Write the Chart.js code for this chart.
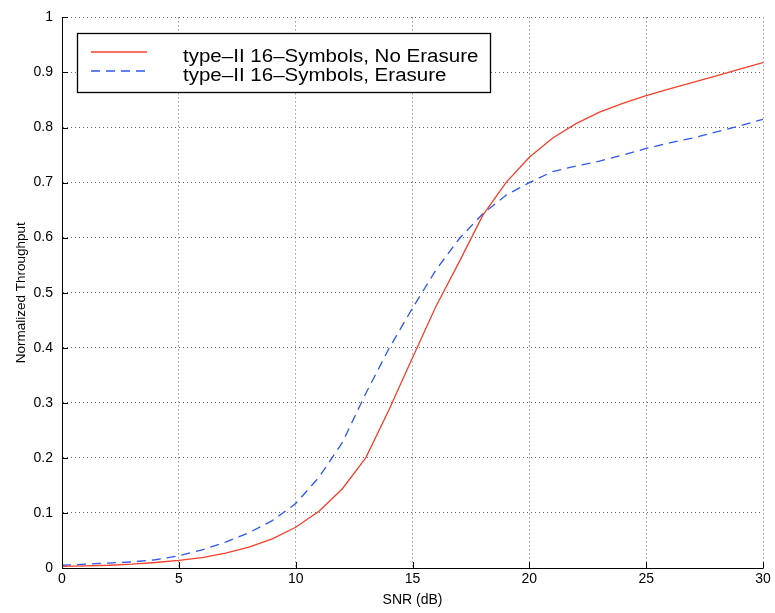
<!DOCTYPE html>
<html><head><meta charset="utf-8">
<script src="https://cdn.jsdelivr.net/npm/chart.js@4/dist/chart.umd.min.js"></script>
<style>html,body{margin:0;padding:0;background:#fff}#wrap{width:775px;height:613px;position:relative}</style>
</head><body><div id="wrap"><canvas id="c" width="775" height="613"></canvas></div>
<script>
const snr = [0,1,2,3,4,5,6,7,8,9,10,11,12,13,14,15,16,17,18,19,20,21,22,23,24,25,26,27,28,29,30];
const noErasure = [0.003,0.004,0.005,0.007,0.010,0.014,0.019,0.027,0.038,0.053,0.074,0.103,0.144,0.200,0.288,0.382,0.475,0.556,0.640,0.700,0.746,0.781,0.807,0.828,0.844,0.858,0.870,0.882,0.894,0.906,0.918];
const erasure = [0.005,0.007,0.009,0.011,0.015,0.022,0.033,0.047,0.064,0.086,0.117,0.165,0.228,0.317,0.399,0.472,0.541,0.598,0.643,0.677,0.700,0.720,0.730,0.739,0.750,0.762,0.772,0.781,0.792,0.803,0.815];
const seriesLabels = ['type\u2013II 16\u2013Symbols, No Erasure','type\u2013II 16\u2013Symbols, Erasure'];
const xTicks = [0,5,10,15,20,25,30];
const yTicks = [0,0.1,0.2,0.3,0.4,0.5,0.6,0.7,0.8,0.9,1];
const FONT = '"Liberation Sans", Arial, Helvetica, sans-serif';

const toPts = (ys) => snr.map((x,i)=>({x:x,y:ys[i]}));

const inTicks = {
  id:'inTicks',
  afterDraw(chart){
    const {ctx, chartArea:a, scales:{x,y}} = chart;
    ctx.save();
    ctx.setLineDash([]);
    ctx.strokeStyle='#000'; ctx.lineWidth=1;
    ctx.beginPath();
    ctx.moveTo(a.left+0.5,a.top); ctx.lineTo(a.left+0.5,a.bottom+0.5); ctx.lineTo(a.right,a.bottom+0.5);
    xTicks.forEach(v=>{const p=Math.round(x.getPixelForValue(v))+0.5; ctx.moveTo(p,a.bottom); ctx.lineTo(p,a.bottom-6);});
    yTicks.forEach(v=>{const p=Math.round(y.getPixelForValue(v))+0.5; ctx.moveTo(a.left,p); ctx.lineTo(a.left+6,p);});
    ctx.stroke();
    // legend box
    const bx=77, by=33, bw=413, bh=59;
    ctx.fillStyle='#fff'; ctx.fillRect(bx,by,bw,bh);
    ctx.lineWidth=1.3; ctx.strokeStyle='#000'; ctx.strokeRect(bx+0.5,by+0.5,bw,bh);
    chart.data.datasets.forEach((ds,i)=>{
      const yy = by + 19 + i*19;
      ctx.beginPath();
      ctx.strokeStyle=ds.borderColor; ctx.lineWidth=1.3;
      ctx.setLineDash(ds.borderDash||[]);
      ctx.moveTo(91,yy); ctx.lineTo(147,yy); ctx.stroke();
      ctx.setLineDash([]);
      ctx.save();
      ctx.translate(183, yy+9.5);
      ctx.scale(1.14,1);
      ctx.fillStyle='#000'; ctx.font='18px '+FONT; ctx.textBaseline='alphabetic'; ctx.textAlign='left';
      ctx.fillText(ds.label,0,0);
      ctx.restore();
    });
    ctx.restore();
  }
};

new Chart(document.getElementById('c'),{
  type:'line',
  data:{datasets:[
    {label:seriesLabels[0],data:toPts(noErasure),borderColor:'#f4402a',borderWidth:1.3,pointRadius:0,tension:0,fill:false},
    {label:seriesLabels[1],data:toPts(erasure),borderColor:'#2d57f0',borderWidth:1.3,borderDash:[9,6],pointRadius:0,tension:0,fill:false}
  ]},
  options:{
    responsive:false,animation:false,devicePixelRatio:1,
    layout:{padding:{top:14,right:12,left:0,bottom:0}},
    plugins:{legend:{display:false},tooltip:{enabled:false}},
    scales:{
      x:{type:'linear',min:0,max:30,
        afterBuildTicks(s){s.ticks=xTicks.map(v=>({value:v}));},
        afterFit(s){s.height=45;},
        grid:{color:'#666',lineWidth:1,drawTicks:false},
        border:{display:true,color:'#666',width:1,dash:[1,3]},
        ticks:{color:'#000',font:{family:FONT,size:14},padding:3,maxRotation:0,callback:v=>String(v)},
        title:{display:true,text:'SNR (dB)',color:'#000',font:{family:FONT,size:14},padding:{top:0,bottom:4}}
      },
      y:{min:0,max:1,
        afterBuildTicks(s){s.ticks=yTicks.map(v=>({value:v}));},
        afterFit(s){s.width=62;},
        grid:{color:'#666',lineWidth:1,drawTicks:false},
        border:{display:true,color:'#666',width:1,dash:[1,3]},
        ticks:{color:'#000',font:{family:FONT,size:14},padding:9,callback:v=>String(+v.toFixed(1))},
        title:{display:true,text:'Normalized Throughput',color:'#000',font:{family:FONT,size:13.5},padding:{top:13,bottom:0}}
      }
    }
  },
  plugins:[inTicks]
});
</script></body></html>
